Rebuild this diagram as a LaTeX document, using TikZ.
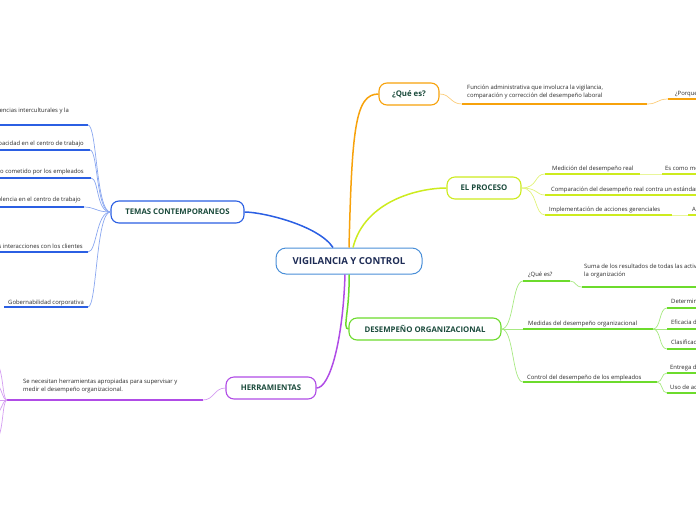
\documentclass[tikz,border=0pt]{standalone}
\usepackage{fontspec}
\setmainfont{Open Sans}
\definecolor{rblue}{HTML}{4A8FD8}
\definecolor{cblue}{HTML}{2B5FE3}
\definecolor{corange}{HTML}{F7A20B}
\definecolor{clime}{HTML}{CDEB1E}
\definecolor{cgreen}{HTML}{6CDB2C}
\definecolor{cpurple}{HTML}{B04CE6}
\definecolor{tgreen}{HTML}{1B4B3C}
\definecolor{tnavy}{HTML}{1E2C55}
\definecolor{tgray}{HTML}{2A2A2A}
\begin{document}
\begin{tikzpicture}[
  x=1pt, y=-1pt,
  root/.style={draw=rblue, line width=1pt, rounded corners=10pt, fill=white,
               minimum width=146pt, minimum height=26pt, text=tnavy,
               font=\fontsize{9.6}{11}\selectfont\bfseries},
  topic/.style={draw, line width=1.1pt, rounded corners=8pt, fill=white,
                minimum height=22pt, text=tgreen, inner xsep=0pt,
                font=\fontsize{7.8}{9}\selectfont\bfseries},
  lbl/.style={font=\fontsize{5.9}{8}\selectfont, text=tgray, inner sep=0pt, align=left},
  uline/.style={line width=1.4pt},
  conn/.style={line width=0.7pt},
  branch/.style={line width=1.5pt},
]
\useasboundingbox (0,0) rectangle (696,520);
\clip (0,0) rectangle (696,520);

\node[root] (vc) at (349,261) {VIGILANCIA Y CONTROL};

\node[topic, draw=cblue, minimum width=133pt] (temas) at (177.5,212) {TEMAS CONTEMPORANEOS};
\node[topic, draw=cpurple, minimum width=90pt] (herr) at (271,388) {HERRAMIENTAS};
\node[topic, draw=corange, minimum width=60pt] (quees) at (409,94) {¿Qué es?};
\node[topic, draw=clime, minimum width=74pt] (proceso) at (484,188) {EL PROCESO};
\node[topic, draw=cgreen, minimum width=152pt] (desemp) at (425,329) {DESEMPEÑO ORGANIZACIONAL};

% ramas principales
\draw[branch, cblue] ([xshift=-16pt]vc.north) .. controls (318,225) and (262,212) .. (temas.east);
\draw[branch, corange] (vc.north) .. controls (352,130) and (355,94) .. (quees.west);
\draw[branch, clime] ([xshift=4pt]vc.north) .. controls (365,200) and (420,188) .. (proceso.west);
\draw[branch, cpurple] ([xshift=-4pt]vc.south) .. controls (343,340) and (330,388) .. (herr.east);
\draw[branch, cgreen] (vc.south) .. controls (350,310) and (342,329) .. (desemp.west);

% temas contemporaneos
\node[lbl, anchor=base east] (t1) at (69,112) {Ajuste a las diferencias interculturales y la};
\node[lbl, anchor=base east] (t2) at (84,145) {Discapacidad en el centro de trabajo};
\node[lbl, anchor=base east] (t3) at (84,173) {Robo cometido por los empleados};
\node[lbl, anchor=base east] (t4) at (81,201) {Violencia en el centro de trabajo};
\node[lbl, anchor=base east] (t5) at (83,248) {Control de las interacciones con los clientes};
\node[lbl, anchor=base east] (t6) at (84,304) {Gobernabilidad corporativa};
\coordinate (t1e) at (88,125);
\coordinate (t2e) at (90,150);
\coordinate (t3e) at (91,178);
\coordinate (t4e) at (84,207);
\coordinate (t5e) at (88,252);
\coordinate (t6e) at (88,307);
\draw[uline, cblue] (0,125) -- (t1e);
\draw[uline, cblue] (0,150) -- (t2e);
\draw[uline, cblue] (0,178) -- (t3e);
\draw[uline, cblue] (0,207) -- (t4e);
\draw[uline, cblue] (0,252) -- (t5e);
\draw[uline, cblue] (4,307) -- (t6e);
\draw[conn, cblue!55] (temas.west) .. controls (96,212) and (97,125) .. (t1e);
\draw[conn, cblue!55] (temas.west) .. controls (96,212) and (98,150) .. (t2e);
\draw[conn, cblue!55] (temas.west) .. controls (96,212) and (99,178) .. (t3e);
\draw[conn, cblue!55] (temas.west) .. controls (96,212) and (95,207) .. (t4e);
\draw[conn, cblue!55] (temas.west) .. controls (96,212) and (97,252) .. (t5e);
\draw[conn, cblue!55] (temas.west) .. controls (96,212) and (97,307) .. (t6e);

% herramientas
\node[lbl, anchor=north west] (h1) at (23,379) {Se necesitan herramientas apropiadas para supervisar y\\medir el desempeño organizacional.};
\coordinate (h1e) at (203,400);
\coordinate (hj) at (7,400);
\draw[conn, cpurple!55] (herr.west) .. controls (214,388) and (214,400) .. (h1e);
\draw[uline, cpurple] (hj) -- (h1e);
\coordinate (ho1) at (-4,362);
\coordinate (ho2) at (-4,384);
\coordinate (ho3) at (-4,400);
\coordinate (ho4) at (-4,414);
\coordinate (ho5) at (-4,442);
\draw[conn, cpurple!55] (hj) .. controls (2,400) and (4,370) .. (ho1);
\draw[conn, cpurple!55] (hj) .. controls (2,400) and (2,386) .. (ho2);
\draw[conn, cpurple!55] (hj) -- (ho3);
\draw[conn, cpurple!55] (hj) .. controls (2,400) and (2,412) .. (ho4);
\draw[conn, cpurple!55] (hj) .. controls (2,400) and (4,432) .. (ho5);

% que es
\node[lbl, anchor=north west] (q1) at (467,85) {Función administrativa que involucra la vigilancia,\\comparación y corrección del desempeño laboral};
\coordinate (q1a) at (462,104);
\coordinate (q1e) at (647,104);
\coordinate (q2a) at (668,99);
\draw[conn, corange!55] (quees.east) .. controls (451,94) and (450,104) .. (q1a);
\draw[uline, corange] (q1a) -- (q1e);
\draw[conn, corange!55] (q1e) .. controls (658,104) and (657,99) .. (q2a);
\draw[uline, corange] (q2a) -- (700,99);
\node[lbl, anchor=base west] (q2) at (675,95) {¿Porque es importante?};

% el proceso
\node[lbl, anchor=base west] (p1) at (552,170) {Medición del desempeño real};
\node[lbl, anchor=base west] (p2) at (551,191) {Comparación del desempeño real contra un estándar};
\node[lbl, anchor=base west] (p3) at (549,211) {Implementación de acciones gerenciales};
\node[lbl, anchor=base west] (p4) at (665,170) {Es como medimos el desempeño};
\node[lbl, anchor=base west] (p5) at (692,211) {Acciones correctivas};
\coordinate (p1a) at (545,174);
\coordinate (p2a) at (545,195);
\coordinate (p3a) at (545,215);
\draw[conn, clime!60] (proceso.east) .. controls (538,188) and (534,174) .. (p1a);
\draw[conn, clime!60] (proceso.east) .. controls (538,188) and (536,195) .. (p2a);
\draw[conn, clime!60] (proceso.east) .. controls (538,188) and (534,215) .. (p3a);
\draw[uline, clime] (p1a) -- (640,174);
\draw[conn, clime!45] (640,174) -- (662,174);
\draw[uline, clime] (662,174) -- (700,174);
\draw[uline, clime] (p2a) -- (700,195);
\draw[uline, clime] (p3a) -- (672,215);
\draw[conn, clime!45] (672,215) -- (688,215);
\draw[uline, clime] (688,215) -- (700,215);

% desempeño organizacional
\node[lbl, anchor=base west] (g1) at (528,276) {¿Qué es?};
\node[lbl, anchor=base west] (g2) at (528,325) {Medidas del desempeño organizacional};
\node[lbl, anchor=base west] (g3) at (527,379) {Control del desempeño de los empleados};
\coordinate (g1a) at (523,281);
\coordinate (g2a) at (523,329);
\coordinate (g3a) at (523,382);
\draw[conn, cgreen!60] (desemp.east) .. controls (514,329) and (512,281) .. (g1a);
\draw[conn, cgreen!60] (desemp.east) -- (g2a);
\draw[conn, cgreen!60] (desemp.east) .. controls (514,329) and (512,382) .. (g3a);
\draw[uline, cgreen] (g1a) -- (570,281);
\draw[conn, cgreen!60] (570,281) .. controls (576,281) and (575,287) .. (582,287);
\draw[uline, cgreen] (582,287) -- (700,287);
\node[lbl, anchor=north west] (g4) at (584,264) {Suma de los resultados de todas las actividades de\\la organización};
\draw[uline, cgreen] (g2a) -- (653,329);
\draw[uline, cgreen] (g3a) -- (657,382);
\coordinate (m1) at (667,308);
\coordinate (m2) at (667,329);
\coordinate (m3) at (667,349);
\draw[conn, cgreen!60] (653,329) .. controls (661,329) and (659,308) .. (m1);
\draw[conn, cgreen!60] (653,329) -- (m2);
\draw[conn, cgreen!60] (653,329) .. controls (661,329) and (659,349) .. (m3);
\draw[uline, cgreen] (m1) -- (700,308);
\draw[uline, cgreen] (m2) -- (700,329);
\draw[uline, cgreen] (m3) -- (700,349);
\node[lbl, anchor=base west] (m1t) at (671,303) {Determinación de la productividad};
\node[lbl, anchor=base west] (m2t) at (671,324) {Eficacia de la organización};
\node[lbl, anchor=base west] (m3t) at (671,344) {Clasificaciones de la industria};
\coordinate (c1) at (667,373);
\coordinate (c2) at (667,393);
\draw[conn, cgreen!60] (657,382) .. controls (663,382) and (661,373) .. (c1);
\draw[conn, cgreen!60] (657,382) .. controls (663,382) and (661,393) .. (c2);
\draw[uline, cgreen] (c1) -- (700,373);
\draw[uline, cgreen] (c2) -- (700,393);
\node[lbl, anchor=base west] (c1t) at (670,369) {Entrega de retroalimentación};
\node[lbl, anchor=base west] (c2t) at (670,389) {Uso de acciones disciplinarias};
\end{tikzpicture}
\end{document}
